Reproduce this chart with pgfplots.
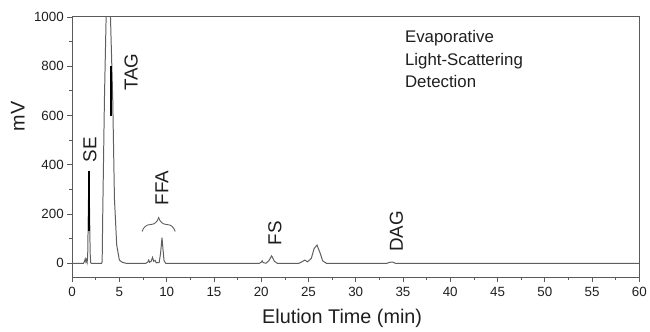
\documentclass[border=0pt]{standalone}
\usepackage{pgfplots}
\pgfplotsset{compat=1.18}
\usepackage{fontspec}
\setmainfont{Liberation Sans}
\usetikzlibrary{decorations.pathreplacing}
\definecolor{trace}{RGB}{95,95,95}
\definecolor{axc}{RGB}{90,90,90}
\definecolor{txt}{RGB}{30,30,30}
\begin{document}
\begin{tikzpicture}
\begin{axis}[
  at={(0,0)}, anchor=south west,
  width=571bp, height=262bp, scale only axis,
  xmin=0, xmax=60, ymin=-56, ymax=1000,
  xtick distance=5, ytick distance=200,
  minor x tick num=1, minor y tick num=1,
  tick pos=left, tick align=outside,
  major tick length=5bp, minor tick length=3bp,
  axis line style={axc, line width=0.9bp},
  every tick/.style={axc, line width=0.7bp},
  /pgf/number format/assume math mode=true,
  /pgf/number format/set thousands separator={},
  tick label style={font=\fontsize{13.5}{15}\selectfont, text=txt},
  xticklabel style={yshift=-2bp},
  xlabel={Elution Time (min)},
  ylabel={mV},
  every axis x label/.style={at={(axis description cs:0.476,-0.16)}, anchor=center, font=\fontsize{20}{22}\selectfont, text=txt},
  every axis y label/.style={at={(axis description cs:-0.096,0.618)}, anchor=center, rotate=90, font=\fontsize{20}{22}\selectfont, text=txt},
  clip=true,
]
\addplot[trace, line width=1bp] coordinates {
(0,0)(1.20,0)(1.30,8)(1.38,18)(1.45,6)(1.52,15)(1.58,4)
(1.64,30)(1.72,250)(1.78,375)(1.84,200)(1.90,40)(1.96,2)(2.05,0)
(3.10,0)(3.17,5)(3.23,195)(3.41,665)(3.59,1000)(3.70,1150)(3.85,1200)(4.00,1100)(4.05,1000)
(4.29,665)(4.47,262)(4.71,74)(4.99,13)(5.3,4)(5.7,0)
(7.8,0)(8.0,5)(8.09,13)(8.2,4)(8.35,8)(8.5,24)(8.62,8)(8.76,12)(8.9,2)(9.2,3)(9.35,40)(9.5,104)(9.6,60)(9.72,10)(9.9,0)
(19.8,0)(20.0,4)(20.1,10)(20.2,3)(20.5,0)(20.8,10)(21.1,30)(21.4,8)(21.7,0)
(24.0,0)(24.4,8)(24.6,13)(24.9,6)(25.3,20)(25.6,60)(25.9,74)(26.2,45)(26.5,10)(26.9,0)
(33.3,0)(33.6,4)(33.9,5)(34.2,0)(60,0)
};
\addplot[black, line width=1.4bp] coordinates {(1.78,130)(1.78,375)};
\addplot[black, line width=1.4bp] coordinates {(4.12,597)(4.12,800)};
\begin{scope}[every node/.style={font=\fontsize{19}{21}\selectfont, text=txt, rotate=90, anchor=center}]
\node at (axis cs:1.88,460) {SE};
\node at (axis cs:6.23,776) {TAG};
\node at (axis cs:9.48,306) {FFA};
\node at (axis cs:21.45,122) {FS};
\node at (axis cs:34.3,129) {DAG};
\end{scope}
\draw[trace, line width=0.9bp, decorate, decoration={brace, amplitude=14bp}] (axis cs:7.4,129) -- (axis cs:10.9,129);
\node[anchor=north west, align=left, inner sep=0pt, text=txt, font=\fontsize{17}{22.5}\selectfont] at (axis cs:35.2,945) {Evaporative\\Light-Scattering\\Detection};
\end{axis}
\path (-72.7bp,-55bp) rectangle (577.3bp,279bp);
\end{tikzpicture}
\end{document}
